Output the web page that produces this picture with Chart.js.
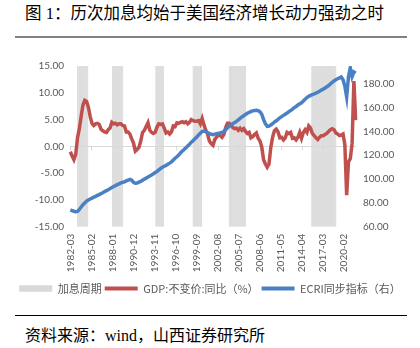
<!DOCTYPE html>
<html>
<head>
<meta charset="utf-8">
<script src="https://cdn.jsdelivr.net/npm/chart.js@4.4.1/dist/chart.umd.min.js"></script>
<style>
  body { margin: 0; width: 420px; height: 348px; background: #fff; position: relative; overflow: hidden; }
  #title { position: absolute; left: 25px; top: 3px; font-family: "Liberation Serif", "Noto Sans CJK SC", serif; font-size: 16.5px; line-height: 22px; color: #000; white-space: nowrap; }
  #rule1 { position: absolute; left: 15px; top: 36px; width: 392px; height: 2px; background: #808080; }
  #wrap { position: absolute; left: 0; top: 40px; width: 420px; height: 270px; }
  #rule2 { position: absolute; left: 15px; top: 315px; width: 392px; height: 1px; background: #000; }
  #src { position: absolute; left: 25px; top: 325px; font-family: "Liberation Serif", "Noto Sans CJK SC", serif; font-size: 16px; line-height: 22px; color: #000; white-space: nowrap; }
</style>
</head>
<body>
<div id="title">图 1：历次加息均始于美国经济增长动力强劲之时</div>
<div id="rule1"></div>
<div id="wrap"><canvas id="chart"></canvas></div>
<div id="rule2"></div>
<div id="src">资料来源：wind，山西证券研究所</div>

<script>
// 月度类目 1982-03 ~ 2021-09
var startYear = 1982, startMonth = 3, monthCount = 475;
var labelStep = 35;  // 每35个月显示一个刻度标签

// 加息周期（起止月份）
var hikePeriods = [
  ['1983-03', '1984-08'],
  ['1988-01', '1989-06'],
  ['1994-01', '1995-02'],
  ['1999-03', '2000-05'],
  ['2004-03', '2006-06'],
  ['2015-08', '2018-12']
];

// GDP:不变价:同比（%），季度，1982Q1 ~ 2021Q3
var gdpQ = [
  -1.0, -1.8, -2.5, -1.5,
  1.6, 3.3, 5.6, 7.7,
  8.6, 8.4, 7.3, 5.6,
  4.3, 3.9, 4.2, 4.3,
  4.1, 3.2, 2.9, 2.7,
  2.6, 3.1, 3.4, 4.5,
  4.2, 4.3, 4.0, 4.2,
  4.2, 3.9, 3.8, 2.7,
  2.7, 2.3, 1.4, 0.6,
  -0.9, -0.6, -0.2, 1.0,
  2.6, 3.0, 3.7, 4.4,
  3.0, 2.6, 2.4, 2.6,
  3.6, 4.2, 4.1, 4.2,
  3.4, 2.5, 2.7, 2.3,
  2.7, 3.8, 3.7, 4.4,
  4.3, 4.5, 4.6, 4.4,
  4.6, 4.2, 4.5, 5.0,
  4.8, 4.7, 4.7, 4.8,
  4.2, 5.2, 4.0, 3.0,
  2.3, 1.0, 0.5, 0.2,
  1.3, 1.7, 2.2, 2.0,
  1.7, 2.2, 3.5, 4.3,
  4.3, 3.9, 3.5, 3.3,
  3.4, 3.0, 3.4, 3.0,
  3.3, 2.8, 2.4, 2.6,
  1.6, 1.8, 2.2, 2.5,
  1.5, 1.0, -0.1, -2.5,
  -3.3, -3.9, -3.3, -0.2,
  1.7, 2.9, 3.2, 2.7,
  1.6, 1.7, 1.2, 1.6,
  2.6, 2.4, 2.6, 1.5,
  1.6, 1.2, 1.7, 2.6,
  1.5, 2.6, 3.1, 2.6,
  3.8, 3.4, 2.4, 2.0,
  1.6, 1.3, 1.7, 2.0,
  2.0, 2.2, 2.4, 2.8,
  3.1, 3.3, 3.1, 2.5,
  2.3, 2.0, 2.1, 2.3,
  0.3, -9.1, -2.9, -2.3,
  0.5, 12.2, 4.9
];

// ECRI同步指标（右轴），季度末，1982Q1 ~ 2021Q3
var ecriQ = [
  74.0, 73.5, 73.0, 72.6,
  72.8, 74.5, 76.5, 78.5,
  80.0, 81.5, 82.5, 83.3,
  84.0, 84.8, 85.5, 86.3,
  87.0, 87.8, 88.5, 89.5,
  90.3, 91.0, 92.0, 93.0,
  93.8, 94.5, 95.3, 96.0,
  96.8, 97.3, 97.7, 98.5,
  99.2, 99.7, 99.0, 97.3,
  96.5, 96.6, 97.4, 98.0,
  99.0, 100.0, 100.8, 101.8,
  102.6, 103.5, 104.4, 105.5,
  106.5, 107.8, 108.9, 110.0,
  110.8, 111.5, 112.5, 113.4,
  114.4, 116.0, 117.5, 118.8,
  120.2, 122.0, 123.5, 124.8,
  126.3, 127.8, 129.3, 131.0,
  132.3, 133.8, 135.3, 137.0,
  138.5, 140.0, 140.3, 139.8,
  139.0, 138.3, 137.6, 137.3,
  137.8, 138.2, 138.5, 138.8,
  139.2, 140.0, 141.5, 143.0,
  144.5, 145.5, 146.5, 147.5,
  148.5, 149.7, 151.0, 152.2,
  153.2, 154.3, 155.3, 156.0,
  156.8, 157.3, 157.7, 157.9,
  157.6, 156.5, 154.5, 150.0,
  146.5, 144.3, 144.6, 145.5,
  146.5, 147.9, 149.0, 150.2,
  151.5, 152.5, 153.5, 154.5,
  155.5, 156.7, 157.6, 158.8,
  160.0, 161.0, 162.2, 163.2,
  164.0, 165.5, 167.0, 168.5,
  169.5, 170.3, 171.0, 171.6,
  172.2, 173.0, 173.8, 174.8,
  175.5, 176.5, 177.5, 178.6,
  180.0, 181.2, 182.5, 183.5,
  184.3, 185.0, 185.8, 183.5,
  178.0, 169.0, 186.0, 193.5,
  186.0, 190.0, 189.0
];

var months = [];
for (var i = 0; i < monthCount; i++) {
  var t = startYear * 12 + (startMonth - 1) + i;
  var mm = t % 12 + 1;
  months.push(Math.floor(t / 12) + '-' + (mm < 10 ? '0' + mm : mm));
}

// 季度值放在季末月份上，其余月份留空
var gdpSeries = months.map(function(m, i) { return i % 3 === 0 ? gdpQ[i / 3] : null; });
var ecriSeries = months.map(function(m, i) { return i % 3 === 0 ? ecriQ[i / 3] : null; });
var hikeSeries = months.map(function(m) {
  return hikePeriods.some(function(p) { return m >= p[0] && m <= p[1]; }) ? 1 : null;
});

var tickColor = '#595959';
var tickFont = { family: 'Lato', size: 10 };

// 零轴及刻度线
var zeroAxis = {
  id: 'zeroAxis',
  beforeDatasetsDraw: function(chart) {
    var ctx = chart.ctx, area = chart.chartArea;
    var xs = chart.scales.x, ys = chart.scales.y;
    var y0 = Math.round(ys.getPixelForValue(0)) + 0.5;
    ctx.save();
    ctx.strokeStyle = '#d9d9d9';
    ctx.lineWidth = 1;
    ctx.beginPath();
    ctx.moveTo(area.left, y0);
    ctx.lineTo(area.right, y0);
    for (var k = 0; k < months.length; k += labelStep) {
      var px = Math.round(xs.getPixelForValue(k)) + 0.5;
      ctx.moveTo(px, y0);
      ctx.lineTo(px, y0 + 4);
    }
    ctx.stroke();
    ctx.restore();
  }
};

var ctx = document.getElementById('chart').getContext('2d');
var chart = new Chart(ctx, {
  type: 'bar',
  data: {
    labels: months,
    datasets: [{
      type: 'bar',
      label: '加息周期',
      data: hikeSeries,
      yAxisID: 'yb',
      backgroundColor: '#d9d9d9',
      borderWidth: 0,
      barPercentage: 1.3,
      categoryPercentage: 1,
      order: 3
    }, {
      type: 'line',
      label: 'GDP:不变价:同比（%）',
      data: gdpSeries,
      yAxisID: 'y',
      borderColor: '#c0504d',
      backgroundColor: '#c0504d',
      borderWidth: 3.5,
      pointRadius: 0,
      spanGaps: true,
      tension: 0,
      order: 2
    }, {
      type: 'line',
      label: 'ECRI同步指标（右）',
      data: ecriSeries,
      yAxisID: 'y1',
      borderColor: '#4a80c4',
      backgroundColor: '#4a80c4',
      borderWidth: 3.5,
      pointRadius: 0,
      spanGaps: true,
      tension: 0,
      order: 1
    }]
  },
  options: {
    responsive: true,
    maintainAspectRatio: false,
    animation: false,
    layout: { padding: { top: 26, left: 0, right: 0, bottom: 6 } },
    scales: {
      x: {
        grid: { display: false, drawTicks: false },
        border: { display: false },
        ticks: {
          autoSkip: false,
          minRotation: 90,
          maxRotation: 90,
          padding: 7,
          color: tickColor,
          font: tickFont,
          callback: function(v, i) { return i % labelStep === 0 ? months[i] : ''; }
        },
        afterFit: function(s) { s.height = 53.3; }
      },
      y: {
        position: 'left',
        min: -15,
        max: 15,
        grid: { display: false, drawTicks: false },
        border: { display: false },
        ticks: {
          stepSize: 5,
          padding: 6,
          color: tickColor,
          font: tickFont,
          callback: function(v) { return v.toFixed(2); }
        },
        afterFit: function(s) { s.width = 70; }
      },
      y1: {
        position: 'right',
        min: 60,
        max: 195,
        grid: { display: false, drawTicks: false },
        border: { display: false },
        ticks: {
          stepSize: 20,
          includeBounds: false,
          padding: 7,
          color: tickColor,
          font: tickFont,
          callback: function(v) { return v.toFixed(2); }
        },
        afterFit: function(s) { s.width = 64; }
      },
      yb: { display: false, min: 0, max: 1 }
    },
    plugins: {
      tooltip: { enabled: false },
      legend: {
        position: 'bottom',
        labels: {
          usePointStyle: true,
          pointStyleWidth: 33,
          boxHeight: 6.5,
          padding: 3,
          color: tickColor,
          font: { family: 'Noto Sans CJK SC', size: 11 },
          generateLabels: function(c) {
            return c.data.datasets.map(function(d, i) {
              var isBar = d.type === 'bar';
              return {
                text: d.label,
                fillStyle: d.backgroundColor,
                strokeStyle: d.backgroundColor,
                lineWidth: isBar ? 0 : 4,
                pointStyle: isBar ? 'rect' : 'line',
                fontColor: tickColor,
                hidden: false,
                datasetIndex: i
              };
            });
          }
        }
      }
    }
  },
  plugins: [zeroAxis]
});
</script>
</body>
</html>
